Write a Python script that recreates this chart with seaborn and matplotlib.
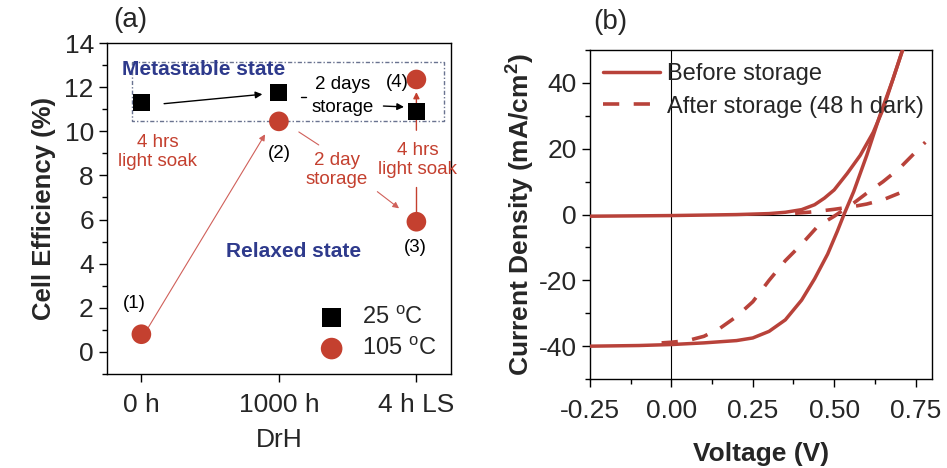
import numpy as np
import pandas as pd
import matplotlib
matplotlib.use("Agg")
import matplotlib.pyplot as plt
import seaborn as sns
from matplotlib.ticker import MultipleLocator

sns.set_theme(style="ticks")
plt.rcParams['font.family'] = ['Liberation Sans', 'DejaVu Sans']
plt.rcParams['mathtext.fontset'] = 'custom'
plt.rcParams['mathtext.rm'] = 'Liberation Sans'
plt.rcParams['mathtext.bf'] = 'Liberation Sans:bold'
plt.rcParams['axes.unicode_minus'] = False

# ---------------- data ----------------
stages = ["0 h", "1000 h", "4 h LS"]
eff_25c = [11.3, 11.75, 10.9]
stage_idx_105 = [0, 1, 2, 2]
eff_105c = [0.8, 10.45, 5.9, 12.35]
point_labels_105 = ["(1)", "(2)", "(3)", "(4)"]

v_before_light = [-0.25, -0.1, 0.0, 0.1, 0.2, 0.25, 0.3, 0.35, 0.4, 0.44, 0.48, 0.51, 0.53, 0.56, 0.6, 0.64, 0.68, 0.71]
j_before_light = [-40, -39.8, -39.5, -39, -38.3, -37.5, -35.5, -32, -26, -19.5, -12, -5, 0, 7, 18, 30, 41, 50]
v_before_dark = [-0.25, 0.0, 0.2, 0.3, 0.35, 0.4, 0.44, 0.47, 0.5, 0.54, 0.58, 0.62, 0.65, 0.68, 0.71]
j_before_dark = [-0.5, -0.3, 0, 0.3, 0.7, 1.5, 3, 5, 7.5, 12.5, 18, 25, 32, 41, 50]
v_after_light = [-0.03, 0.0, 0.05, 0.1, 0.15, 0.2, 0.25, 0.3, 0.35, 0.4, 0.45, 0.5, 0.53, 0.56, 0.6, 0.65, 0.7, 0.75, 0.78]
j_after_light = [-39, -38.8, -38.3, -37, -34.5, -31, -26.5, -20, -14, -9, -3.5, -0.5, 1.5, 3.5, 6.5, 10, 14, 19, 22]
v_after_dark = [0.38, 0.42, 0.45, 0.5, 0.55, 0.6, 0.65, 0.7]
j_after_dark = [0.4, 0.7, 1.0, 1.6, 2.3, 3.2, 4.5, 6.5]

RED = "#C4402F"
CURVE = "#B8423A"
NAVY = "#2E3A8C"
ARROWRED = "#D0605A"

TICK = 19
ANN = 13.5

fig = plt.figure(figsize=(9.47, 4.68), dpi=100)
axa = fig.add_axes([0.113, 0.201, 0.363, 0.707])
axb = fig.add_axes([0.623, 0.190, 0.361, 0.703])

# ---------------- panel (a) ----------------
df25 = pd.DataFrame({"x": np.arange(len(stages)), "eff": eff_25c})
df105 = pd.DataFrame({"x": stage_idx_105, "eff": eff_105c})
sns.scatterplot(data=df25, x="x", y="eff", marker="s", s=150, color="black",
                edgecolor="none", ax=axa, label="25 $^{\\rm o}$C", zorder=5)
sns.scatterplot(data=df105, x="x", y="eff", marker="o", s=200, color=RED,
                edgecolor="none", ax=axa, label="105 $^{\\rm o}$C", zorder=5)

axa.set_xlim(-0.25, 2.25)
axa.set_ylim(-1, 14)
axa.set_xticks(np.arange(len(stages)))
axa.set_xticklabels(stages)
axa.yaxis.set_major_locator(MultipleLocator(2))
axa.yaxis.set_minor_locator(MultipleLocator(1))
axa.tick_params(axis="both", which="major", labelsize=TICK, length=6, width=1, direction="out", color="black")
axa.tick_params(axis="y", which="minor", length=3.5, width=1, direction="out", color="black")
axa.tick_params(axis="x", pad=8)
for sp in axa.spines.values():
    sp.set_color("black"); sp.set_linewidth(1)
axa.set_xlabel("DrH", fontsize=TICK, labelpad=8)
axa.set_ylabel("Cell Efficiency (%)", fontsize=18.5, fontweight="bold", labelpad=6)

leg = axa.legend(loc="lower right", frameon=False, fontsize=17, handletextpad=0.3,
                 labelspacing=0.35, borderaxespad=0.2, markerscale=1.1)

# dashed box (metastable region)
axa.plot([-0.07, 2.2, 2.2, -0.07, -0.07], [13.14, 13.14, 10.47, 10.47, 13.14],
         ls=(0, (3, 1.5, 1, 1.5)), lw=1, color="#6A7390", zorder=2)

axa.text(0.45, 12.78, "Metastable state", color=NAVY, fontsize=15, fontweight="bold", ha="center", va="center")
axa.text(1.11, 4.53, "Relaxed state", color=NAVY, fontsize=15, fontweight="bold", ha="center", va="center")

# black arrows
axa.annotate("", xy=(0.9, 11.69), xytext=(0.145, 11.24),
             arrowprops=dict(arrowstyle="-|>", color="black", lw=1, mutation_scale=10))
axa.plot([1.16, 1.2], [11.55, 11.55], color="black", lw=1)
axa.annotate("", xy=(1.93, 11.1), xytext=(1.74, 11.15),
             arrowprops=dict(arrowstyle="-|>", color="black", lw=1, mutation_scale=10))
axa.text(1.46, 12.1, "2 days", fontsize=ANN, ha="center", va="center", color="black")
axa.text(1.46, 11.1, "storage", fontsize=ANN, ha="center", va="center", color="black")

# red annotations
axa.text(0.12, 9.06, "4 hrs\nlight soak", color=RED, fontsize=ANN, ha="center", va="center", linespacing=1.15)
axa.annotate("", xy=(0.91, 9.97), xytext=(0.04, 1.0),
             arrowprops=dict(arrowstyle="-|>", color=ARROWRED, lw=0.8, mutation_scale=9))
axa.text(1.42, 8.25, "2 day\nstorage", color=RED, fontsize=ANN, ha="center", va="center", linespacing=1.15)
axa.plot([1.145, 1.29], [9.97, 9.38], color=ARROWRED, lw=0.8)
axa.annotate("", xy=(1.89, 6.43), xytext=(1.70, 7.34),
             arrowprops=dict(arrowstyle="-|>", color=ARROWRED, lw=0.8, mutation_scale=9))
axa.text(2.01, 8.7, "4 hrs\nlight soak", color=RED, fontsize=ANN, ha="center", va="center", linespacing=1.15)
axa.plot([2.0, 2.0], [6.3, 7.48], color=RED, lw=1)
axa.annotate("", xy=(2.0, 11.9), xytext=(2.0, 9.92),
             arrowprops=dict(arrowstyle="-|>", color=RED, lw=1, mutation_scale=9))

label_pos = [(-0.05, 2.2), (1.0, 9.0), (1.99, 4.75), (1.86, 12.2)]
for lab, (lx, ly) in zip(point_labels_105, label_pos):
    axa.text(lx, ly, lab, fontsize=ANN, ha="center", va="center", color="black")

fig.text(130 / 947, 1 - 20 / 468, "(a)", fontsize=20, ha="center", va="center")

# ---------------- panel (b) ----------------
axb.axhline(0, color="black", lw=0.8, zorder=1)
axb.axvline(0, color="black", lw=0.8, zorder=1)

sns.lineplot(x=v_before_light, y=j_before_light, ax=axb, sort=False, estimator=None,
             color=CURVE, lw=2.5, label="Before storage", zorder=3)
sns.lineplot(x=v_before_dark, y=j_before_dark, ax=axb, sort=False, estimator=None,
             color=CURVE, lw=2.5, zorder=3)
sns.lineplot(x=v_after_light, y=j_after_light, ax=axb, sort=False, estimator=None,
             color=CURVE, lw=2.6, dashes=False, ls=(0, (4.5, 4)), label="After storage (48 h dark)", zorder=3)
sns.lineplot(x=v_after_dark, y=j_after_dark, ax=axb, sort=False, estimator=None,
             color=CURVE, lw=2.6, dashes=False, ls=(0, (4.5, 4)), zorder=3)

axb.set_xlim(-0.25, 0.8)
axb.set_ylim(-50, 50)
axb.xaxis.set_major_locator(MultipleLocator(0.25))
axb.xaxis.set_minor_locator(MultipleLocator(0.125))
axb.yaxis.set_major_locator(MultipleLocator(20))
axb.yaxis.set_minor_locator(MultipleLocator(10))
axb.xaxis.set_major_formatter(matplotlib.ticker.FormatStrFormatter("%.2f"))
axb.tick_params(axis="both", which="major", labelsize=TICK, length=6, width=1, direction="out", color="black")
axb.tick_params(axis="both", which="minor", length=3.5, width=1, direction="out", color="black")
axb.tick_params(axis="x", pad=8)
for sp in axb.spines.values():
    sp.set_color("black"); sp.set_linewidth(1)
axb.set_xlabel("Voltage (V)", fontsize=19, fontweight="bold", labelpad=14)
axb.set_ylabel("Current Density (mA/cm$^\\mathbf{2}$)", fontsize=19, fontweight="bold", labelpad=2)
axb.legend(loc="upper left", frameon=False, fontsize=17, handlelength=2.4,
           handletextpad=0.3, labelspacing=0.45, borderaxespad=0.35, borderpad=0.2)

fig.text(610 / 947, 1 - 22 / 468, "(b)", fontsize=20, ha="center", va="center")

fig.savefig("out.png", dpi=100)
